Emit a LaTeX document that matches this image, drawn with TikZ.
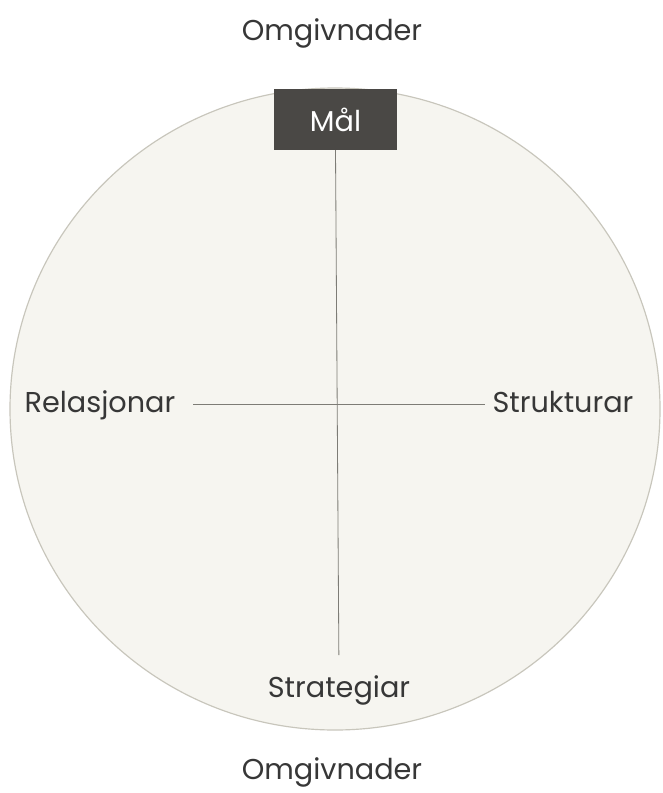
\documentclass[tikz,border=0pt]{standalone}
\usepackage{fontspec}
\setmainfont{Poppins}
\usetikzlibrary{positioning}
\definecolor{discfill}{RGB}{246,245,240}
\definecolor{discedge}{RGB}{200,198,188}
\definecolor{axiscol}{RGB}{125,124,118}
\definecolor{labelcol}{RGB}{55,55,55}
\definecolor{goalfill}{RGB}{74,72,69}
\tikzset{
  lbl/.style={inner sep=0pt,outer sep=0pt,text=labelcol,font=\fontsize{24.5}{27}\selectfont},
  goalbox/.style={fill=goalfill,text=white,minimum width=3.69cm,minimum height=1.83cm,
                  inner sep=0pt,font=\fontsize{24.5}{27}\selectfont},
  axis/.style={draw=axiscol,line width=.7pt},
}
\begin{document}
\begin{tikzpicture}[x=0.03cm,y=-0.03cm]
  \useasboundingbox (0,0) rectangle (662,793);
  \fill[white] (0,0) rectangle (662,793);
  \draw[draw=discedge,fill=discfill,line width=1pt] (335,409) ellipse [x radius=325,y radius=321];
  % labels
  \node[lbl] (envtop) at (332,33) {Omgivnader};
  \node[lbl] (envbot) at (332,772) {Omgivnader};
  \node[goalbox] (goal) at (335.5,119.5) {Mål};
  \node[lbl,anchor=base] (rel) at (100,412) {Relasjonar};
  \node[lbl,anchor=base] (struct) at (563,412) {Strukturar};
  \node[lbl] (strat) at (339,690) {Strategiar};
  % axes
  \draw[axis,shorten >=0.6cm] (goal.south) -- (strat.north);
  \draw[axis,shorten <=0.54cm,shorten >=0.22cm] (rel.east) -- (rel.east -| struct.west);
\end{tikzpicture}
\end{document}
